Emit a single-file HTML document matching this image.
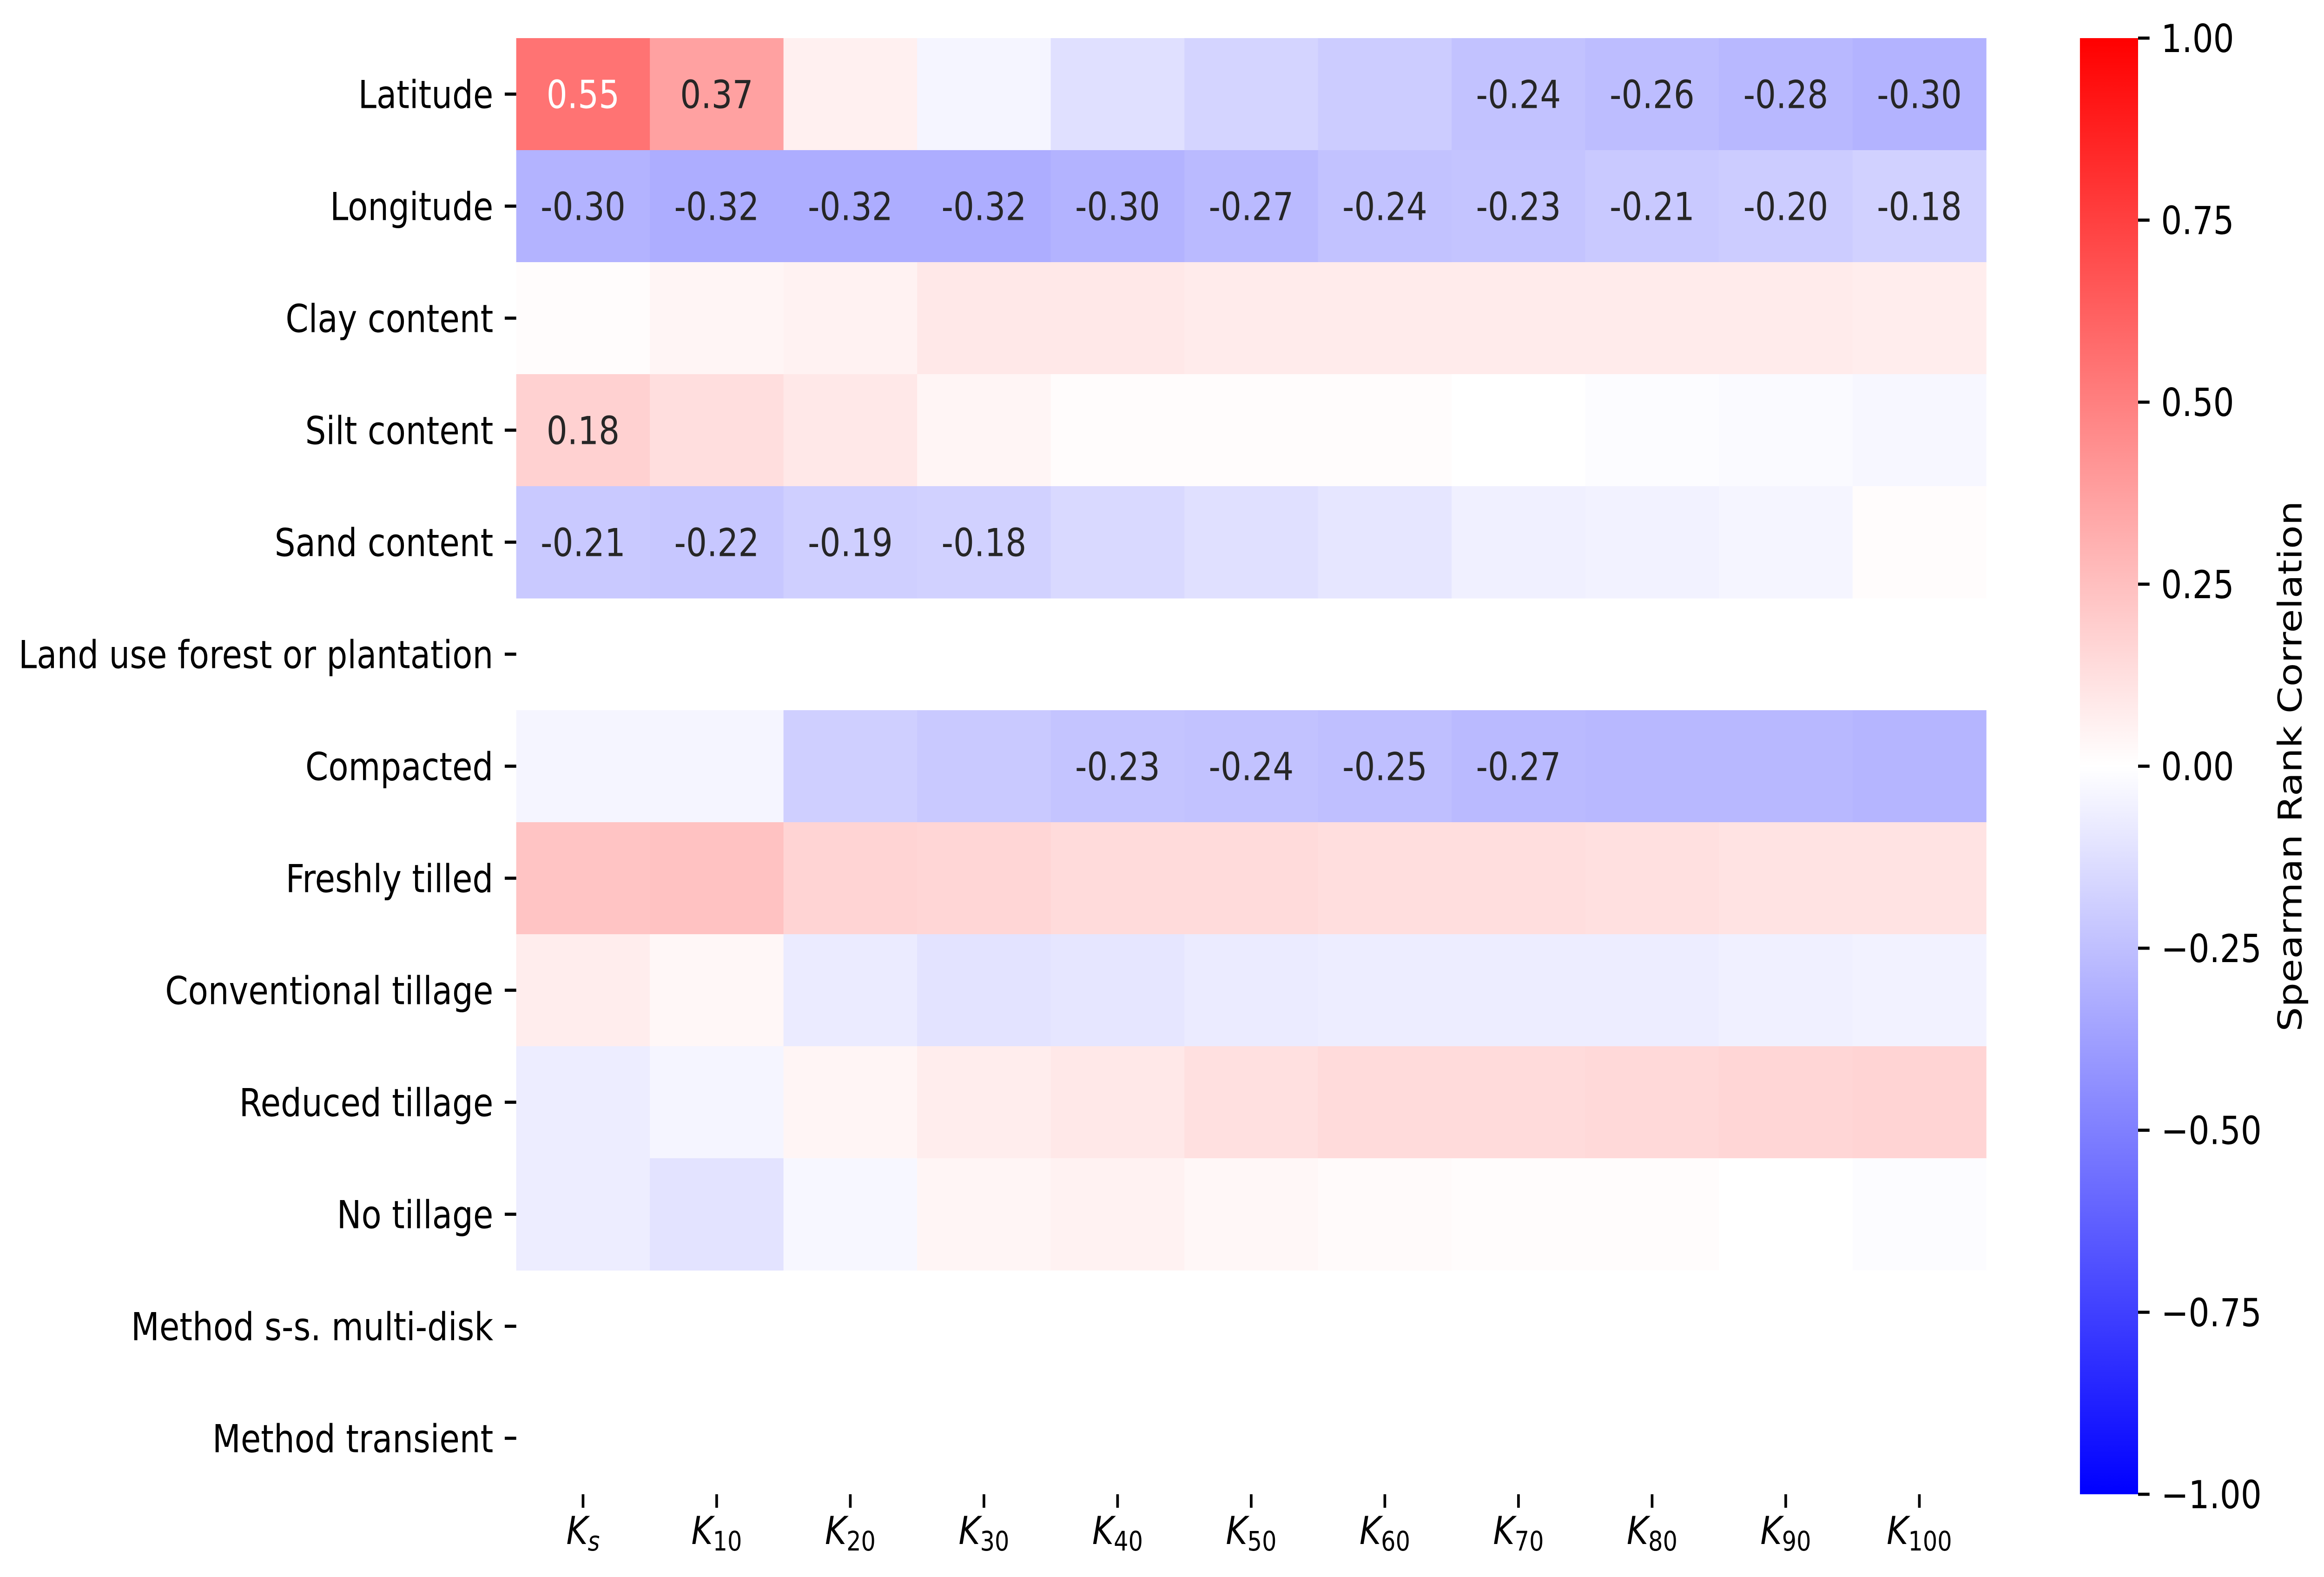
<!DOCTYPE html>
<html><head><meta charset="utf-8">
<style>
html,body{margin:0;padding:0;background:#fff;overflow:hidden;width:100vw;height:100vh;}
svg{display:block;position:absolute;left:0;top:0;width:100vw;height:100vh;font-family:"DejaVu Sans","Liberation Sans",sans-serif;}
</style></head>
<body>
<svg id="chart" viewBox="0 0 5875 3393" preserveAspectRatio="none" xmlns="http://www.w3.org/2000/svg">
<defs>
<linearGradient id="cbgrad" x1="0" y1="1" x2="0" y2="0">
<stop offset="0" stop-color="#0000ff"/><stop offset="0.5" stop-color="#ffffff"/><stop offset="1" stop-color="#ff0000"/>
</linearGradient>
</defs>
<g id="cells"></g>
<g id="annots"></g>
<g id="yaxis"></g>
<g id="xaxis"></g>
<g id="cbar"></g>
</svg>
<script>
const rowLabels = ["Latitude","Longitude","Clay content","Silt content","Sand content","Land use forest or plantation","Compacted","Freshly tilled","Conventional tillage","Reduced tillage","No tillage","Method s-s. multi-disk","Method transient"];
const colSubs = ["s","10","20","30","40","50","60","70","80","90","100"];
const rowLatitude = [0.55,0.37,0.06,-0.04,-0.12,-0.17,-0.20,-0.24,-0.26,-0.28,-0.30];
const rowLongitude = [-0.30,-0.32,-0.32,-0.32,-0.30,-0.27,-0.24,-0.23,-0.21,-0.20,-0.18];
const rowClay = [0.01,0.04,0.05,0.09,0.09,0.08,0.08,0.08,0.08,0.08,0.07];
const rowSilt = [0.18,0.13,0.09,0.04,0.01,0.01,0.01,0.00,-0.01,-0.02,-0.03];
const rowSand = [-0.21,-0.22,-0.19,-0.18,-0.15,-0.12,-0.10,-0.06,-0.05,-0.04,0.01];
const rowLandUse = [null,null,null,null,null,null,null,null,null,null,null];
const rowCompacted = [-0.04,-0.04,-0.19,-0.21,-0.23,-0.24,-0.25,-0.27,-0.28,-0.28,-0.29];
const rowFreshly = [0.23,0.24,0.17,0.16,0.14,0.14,0.13,0.13,0.12,0.11,0.11];
const rowConventional = [0.07,0.03,-0.08,-0.11,-0.10,-0.08,-0.07,-0.07,-0.07,-0.06,-0.05];
const rowReduced = [-0.07,-0.04,0.04,0.07,0.09,0.12,0.14,0.14,0.15,0.16,0.17];
const rowNoTillage = [-0.07,-0.11,-0.03,0.04,0.05,0.03,0.02,0.01,0.01,0.00,-0.01];
const rowMethodSS = [null,null,null,null,null,null,null,null,null,null,null];
const rowMethodTr = [null,null,null,null,null,null,null,null,null,null,null];
const annotLatitude = [1,1,0,0,0,0,0,1,1,1,1];
const annotLongitude = [1,1,1,1,1,1,1,1,1,1,1];
const annotSilt = [1,0,0,0,0,0,0,0,0,0,0];
const annotSand = [1,1,1,1,0,0,0,0,0,0,0];
const annotCompacted = [0,0,0,0,1,1,1,1,0,0,0];
const cbTicks = [1.00,0.75,0.50,0.25,0.00,-0.25,-0.50,-0.75,-1.00];

const values = [rowLatitude,rowLongitude,rowClay,rowSilt,rowSand,rowLandUse,rowCompacted,rowFreshly,rowConventional,rowReduced,rowNoTillage,rowMethodSS,rowMethodTr];
const zeros = new Array(11).fill(0);
const annots = [annotLatitude,annotLongitude,zeros,annotSilt,annotSand,zeros,annotCompacted,zeros,zeros,zeros,zeros,zeros,zeros];

const NS = "http://www.w3.org/2000/svg";
const L = 1305, R = 5021, T = 82, B = 3215;
const cw = (R - L) / colSubs.length, rh = (B - T) / rowLabels.length;
const xPos = i => L + i * cw;
const yPos = j => T + j * rh;
const CBL = 5258, CBR = 5405;
const cbY = v => T + (1 - v) / 2 * (B - T);
function color(v){
  let r,g,b;
  if (v < 0){ r = g = Math.round(255*(1+v)); b = 255; }
  else { r = 255; g = b = Math.round(255*(1-v)); }
  return `rgb(${r},${g},${b})`;
}
function mk(tag, attrs, parent){
  const e = document.createElementNS(NS, tag);
  for (const k in attrs) e.setAttribute(k, attrs[k]);
  parent.appendChild(e);
  return e;
}
const cells = document.getElementById('cells');
const an = document.getElementById('annots');
values.forEach((row, j) => {
  row.forEach((v, i) => {
    if (v === null) return;
    const r = mk('rect', {x: xPos(i), y: yPos(j), width: cw + 0.6, height: rh + 0.6, fill: color(v)}, cells);
    
    
    if (annots[j][i]) {
      const t = mk('text', {x: xPos(i) + cw/2, y: yPos(j) + rh/2 + 30, 'text-anchor': 'middle', 'font-size': 83, fill: Math.abs(v) > 0.45 ? '#ffffff' : '#262626'}, an);
      t.textContent = v.toFixed(2);
      
      
    }
  });
});
const ya = document.getElementById('yaxis');
rowLabels.forEach((lab, j) => {
  const cy = yPos(j) + rh/2;
  const tk = mk('line', {x1: L - 29, x2: L, y1: cy, y2: cy, stroke: '#000', 'stroke-width': 6.7}, ya);
  
  
  const t = mk('text', {x: L - 58, y: cy + 30, 'text-anchor': 'end', 'font-size': 83, fill: '#000'}, ya);
  t.textContent = lab;
  
  
});
const xa = document.getElementById('xaxis');
colSubs.forEach((s, i) => {
  const cx = xPos(i) + cw/2;
  const tk = mk('line', {x1: cx, x2: cx, y1: B, y2: B + 29, stroke: '#000', 'stroke-width': 6.7}, xa);
  
  
  const t = mk('text', {x: cx, y: 3322, 'text-anchor': 'middle', 'font-size': 83, fill: '#000'}, xa);
  
  
  const k = mk('tspan', {'font-style': 'italic'}, t);
  k.textContent = 'K';
  const sub = mk('tspan', {'font-size': 58, dy: 14, 'font-style': s === 's' ? 'italic' : 'normal'}, t);
  sub.textContent = s;
});
const cb = document.getElementById('cbar');
const cbr = mk('rect', {x: CBL, y: T, width: CBR - CBL, height: B - T, fill: 'url(#cbgrad)'}, cb);


cbTicks.forEach(v => {
  const y = cbY(v);
  const tk = mk('line', {x1: CBR, x2: CBR + 29, y1: y, y2: y, stroke: '#000', 'stroke-width': 6.7}, cb);
  
  
  const t = mk('text', {x: CBR + 58, y: y + 30, 'font-size': 83, fill: '#000'}, cb);
  t.textContent = (v < 0 ? '\u2212' : '') + Math.abs(v).toFixed(2);
  
  
});
const cl = mk('text', {x: 0, y: 0, 'text-anchor': 'middle', 'font-size': 83, fill: '#000', transform: `translate(5818 ${(T+B)/2}) rotate(-90)`}, cb);
cl.textContent = 'Spearman Rank Correlation';


</script>
</body></html>
